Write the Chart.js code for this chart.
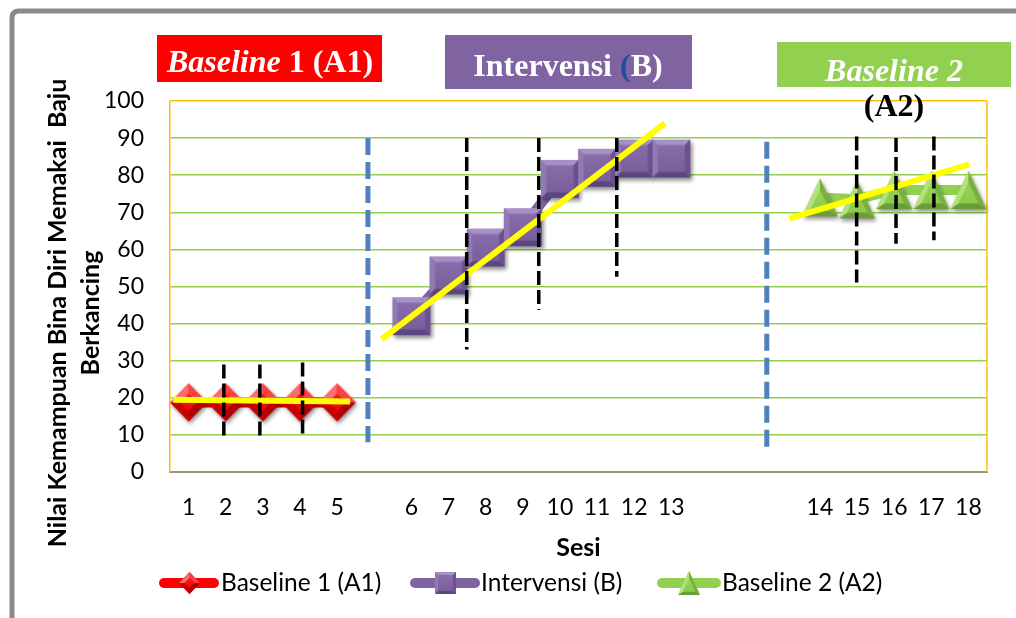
<!DOCTYPE html>
<html>
<head>
<meta charset="utf-8">
<script src="https://cdn.jsdelivr.net/npm/chart.js@4/dist/chart.umd.min.js"></script>
<style>
  html, body { margin: 0; padding: 0; background: #ffffff; }
  canvas { display: block; }
</style>
</head>
<body>
<canvas id="chart" width="1016" height="618"></canvas>
<script>
// Session labels along the x axis (blank slots separate the phases)
const sessionLabels = ['1','2','3','4','5','','6','7','8','9','10','11','12','13','','','','14','15','16','17','18'];

// Scores per phase
const baseline1Values    = [18.75, 18.75, 18.75, 18.75, 18.75];
const interventionValues = [42, 53, 60.5, 66, 79, 82, 84.5, 84.5];
const baseline2Values    = [74, 73.5, 76, 76, 76];

// First slot of each phase on the category axis
const baseline1Start = 0;
const interventionStart = 6;
const baseline2Start = 17;

// Y axis ticks
const yMin = 0;
const yMax = 100;
const yStep = 10;

// Trend lines: [x start, y start, x end, y end] in slot units
const trendBaseline1    = [-0.41, 19.5, 4.35, 19.0];
const trendIntervention = [5.2, 35.8, 12.83, 94.0];
const trendBaseline2    = [16.17, 68.3, 21.02, 82.9];

// Phase change lines: [x, y top, y bottom]
const phaseLines = [[4.83, 90, 8], [15.57, 89, 6.7]];

// Split-middle lines: [x, y top, y bottom]
const splitLines = [
  [0.95, 29, 9], [1.92, 29, 9.3], [3.07, 29.5, 9.5],
  [7.49, 90, 33], [9.43, 90, 43.7], [11.53, 90, 52.6],
  [17.99, 90.4, 51.1], [19.05, 90, 61.5], [20.07, 90.4, 62.5]
];

// Series names and axis titles
const seriesNames = ['Baseline 1 (A1)', 'Intervensi (B)', 'Baseline 2 (A2)'];
const yTitleLines = ['Nilai Kemampuan Bina Diri Memakai  Baju', 'Berkancing'];
const xTitle = 'Sesi';

function placeOnAxis(values, start) {
  const out = sessionLabels.map(() => null);
  values.forEach((v, i) => { out[start + i] = v; });
  return out;
}

// Beveled marker drawn on an offscreen canvas
function bevelMarker(shape, w, h, colors, shadow) {
  const pad = 7;
  const c = document.createElement('canvas');
  c.width = Math.round(w + pad * 2);
  c.height = Math.round(h + pad * 2);
  const g = c.getContext('2d');
  const cx = c.width / 2, cy = c.height / 2;
  let outer, ic;
  if (shape === 'diamond') {
    outer = [[cx, cy - h / 2], [cx + w / 2, cy], [cx, cy + h / 2], [cx - w / 2, cy]];
    ic = [cx, cy];
  } else if (shape === 'square') {
    outer = [[cx - w / 2, cy - h / 2], [cx + w / 2, cy - h / 2], [cx + w / 2, cy + h / 2], [cx - w / 2, cy + h / 2]];
    ic = [cx, cy];
  } else {
    outer = [[cx, cy - h / 2], [cx + w / 2, cy + h / 2], [cx - w / 2, cy + h / 2]];
    ic = [cx, cy + h / 6];
  }
  const poly = (pts) => {
    g.beginPath();
    pts.forEach((p, i) => i ? g.lineTo(p[0], p[1]) : g.moveTo(p[0], p[1]));
    g.closePath();
  };
  g.save();
  if (shadow) {
    g.shadowColor = 'rgba(0,0,0,0.45)';
    g.shadowBlur = 4;
    g.shadowOffsetX = 1.5;
    g.shadowOffsetY = 2.5;
  }
  poly(outer);
  g.fillStyle = colors.base;
  g.fill();
  g.restore();
  const k = colors.inset;
  const inner = outer.map(([x, y]) => [ic[0] + (x - ic[0]) * k, ic[1] + (y - ic[1]) * k]);
  for (let i = 0; i < outer.length; i++) {
    const j = (i + 1) % outer.length;
    poly([outer[i], outer[j], inner[j], inner[i]]);
    g.fillStyle = colors.facets[i];
    g.fill();
  }
  poly(inner);
  const grad = g.createLinearGradient(0, cy - h / 2, 0, cy + h / 2);
  grad.addColorStop(0, colors.face[0]);
  grad.addColorStop(1, colors.face[1]);
  g.fillStyle = grad;
  g.fill();
  return c;
}

const redStyle = { base: '#E00000', inset: 0.45,
  facets: ['#FF4040', '#B00000', '#C80000', '#FF6A6A'], face: ['#FF2020', '#E00000'] };
const purpleStyle = { base: '#8064A2', inset: 0.7,
  facets: ['#A690C6', '#6A5290', '#5C4680', '#917AB4'], face: ['#8C70AE', '#785C9A'] };
const greenStyle = { base: '#92D050', inset: 0.55,
  facets: ['#78B040', '#6A9C38', '#B2E27C'], face: ['#9ED85E', '#8AC848'] };

const diamondMarker = bevelMarker('diamond', 37, 38, redStyle, true);
const squareMarker = bevelMarker('square', 38, 38, purpleStyle, true);
const triangleMarker = bevelMarker('triangle', 36, 38, greenStyle, true);
const diamondSmall = bevelMarker('diamond', 21, 22, redStyle, false);
const squareSmall = bevelMarker('square', 21, 22, purpleStyle, false);
const triangleSmall = bevelMarker('triangle', 22, 24, greenStyle, false);

const seriesColors = ['#FF0000', '#8064A2', '#92D050'];

function segment(pts, color, width, dash) {
  return {
    type: 'line', xAxisID: 'xs', yAxisID: 'y',
    data: pts, borderColor: color, borderWidth: width, borderDash: dash || [],
    borderCapStyle: 'butt', pointRadius: 0, fill: false, tension: 0, clip: false
  };
}

const splitDatasets = splitLines.map(([x, y1, y2]) =>
  segment([{ x, y: y1 }, { x, y: y2 }], '#000000', 3.5, [14, 5]));
const trendDatasets = [trendBaseline1, trendIntervention, trendBaseline2].map(([x1, y1, x2, y2]) =>
  segment([{ x: x1, y: y1 }, { x: x2, y: y2 }], '#FFFF00', 6));
const phaseDatasets = phaseLines.map(([x, y1, y2]) =>
  segment([{ x, y: y1 }, { x, y: y2 }], '#4F81BD', 5, [17, 7]));

function series(name, values, start, color, marker) {
  return {
    label: name, xAxisID: 'x', yAxisID: 'y',
    data: placeOnAxis(values, start),
    borderColor: color, backgroundColor: color, borderWidth: 10,
    pointStyle: marker, pointRadius: 19, pointHoverRadius: 19,
    spanGaps: false, tension: 0, clip: false, fill: false
  };
}

const seriesDatasets = [
  series(seriesNames[0], baseline1Values, baseline1Start, seriesColors[0], diamondMarker),
  series(seriesNames[1], interventionValues, interventionStart, seriesColors[1], squareMarker),
  series(seriesNames[2], baseline2Values, baseline2Start, seriesColors[2], triangleMarker)
];

// Outer frame of the figure
const framePlugin = {
  id: 'frame',
  beforeDraw(chart) {
    const ctx = chart.ctx;
    ctx.save();
    ctx.fillStyle = '#ffffff';
    ctx.fillRect(0, 0, chart.width, chart.height);
    ctx.strokeStyle = '#8A8A8A';
    ctx.lineWidth = 5;
    ctx.beginPath();
    ctx.moveTo(12, chart.height + 5);
    ctx.lineTo(12, 18);
    ctx.quadraticCurveTo(12, 11, 19, 11);
    ctx.lineTo(chart.width + 5, 11);
    ctx.stroke();
    ctx.restore();
  }
};

// Right edge of the plot area
const plotEdgePlugin = {
  id: 'plotEdge',
  beforeDatasetsDraw(chart) {
    const { ctx, chartArea } = chart;
    ctx.save();
    ctx.strokeStyle = '#FFC000';
    ctx.lineWidth = 1.5;
    ctx.beginPath();
    ctx.moveTo(chartArea.right, chartArea.top);
    ctx.lineTo(chartArea.right, chartArea.bottom);
    ctx.stroke();
    ctx.restore();
  }
};

function drawRuns(ctx, runs, cx, baseline) {
  let total = 0;
  runs.forEach(r => { ctx.font = r.font; r.w = ctx.measureText(r.text).width; total += r.w; });
  let x = cx - total / 2;
  ctx.textAlign = 'left';
  ctx.textBaseline = 'alphabetic';
  runs.forEach(r => {
    ctx.font = r.font;
    ctx.fillStyle = r.color;
    ctx.fillText(r.text, x, baseline);
    x += r.w;
  });
}

// Phase name boxes above the plot
const phaseBoxPlugin = {
  id: 'phaseBoxes',
  afterDraw(chart) {
    const ctx = chart.ctx;
    const serif = '"Liberation Serif", "Times New Roman", serif';
    const bi = 'italic bold 32px ' + serif;
    const b = 'bold 32px ' + serif;
    ctx.save();
    ctx.fillStyle = '#FF0000';
    ctx.fillRect(157, 35, 225, 47);
    drawRuns(ctx, [{ text: 'Baseline', font: bi, color: '#fff' }, { text: ' 1 (A1)', font: b, color: '#fff' }], 270, 72);

    ctx.fillStyle = '#8064A2';
    ctx.fillRect(445, 35, 247, 54);
    drawRuns(ctx, [{ text: 'Intervensi ', font: b, color: '#fff' }, { text: '(', font: b, color: '#1F4E9A' },
      { text: 'B)', font: b, color: '#fff' }], 568, 76);

    ctx.fillStyle = '#92D050';
    ctx.fillRect(777, 42, 234, 45);
    drawRuns(ctx, [{ text: 'Baseline 2', font: bi, color: '#fff' }], 894, 81);
    drawRuns(ctx, [{ text: '(A2)', font: b, color: '#000' }], 894, 116);
    ctx.restore();
  }
};

// Two-line rotated y axis title
const yTitlePlugin = {
  id: 'yTitle',
  afterDraw(chart) {
    const ctx = chart.ctx;
    ctx.save();
    ctx.fillStyle = '#000';
    ctx.font = 'bold 25px Lato, "Open Sans", sans-serif';
    ctx.textAlign = 'center';
    ctx.textBaseline = 'middle';
    const xs = [58, 91];
    yTitleLines.forEach((t, i) => {
      ctx.save();
      ctx.translate(xs[i], 313);
      ctx.rotate(-Math.PI / 2);
      ctx.fillText(t, 0, 0);
      ctx.restore();
    });
    ctx.restore();
  }
};

// Legend row with line swatches and markers
const legendPlugin = {
  id: 'seriesLegend',
  afterDraw(chart) {
    const ctx = chart.ctx;
    const y = 583;
    const items = [
      { x1: 159, x2: 219, marker: diamondSmall, tx: 221 },
      { x1: 410, x2: 480, marker: squareSmall, tx: 481 },
      { x1: 657, x2: 721, marker: triangleSmall, tx: 722 }
    ];
    ctx.save();
    items.forEach((it, i) => {
      ctx.strokeStyle = seriesColors[i];
      ctx.lineWidth = 10;
      ctx.lineCap = 'round';
      ctx.beginPath();
      ctx.moveTo(it.x1 + 5, y);
      ctx.lineTo(it.x2 - 5, y);
      ctx.stroke();
      const mx = (it.x1 + it.x2) / 2;
      ctx.drawImage(it.marker, Math.round(mx - it.marker.width / 2), Math.round(y - it.marker.height / 2));
      ctx.fillStyle = '#000';
      ctx.font = '24.5px Lato, "Open Sans", sans-serif';
      ctx.textAlign = 'left';
      ctx.textBaseline = 'middle';
      ctx.fillText(seriesNames[i], it.tx, y);
    });
    ctx.restore();
  }
};

function build() {
  new Chart(document.getElementById('chart'), {
    type: 'line',
    data: {
      labels: sessionLabels,
      datasets: [...splitDatasets, ...trendDatasets, ...phaseDatasets, ...seriesDatasets]
    },
    options: {
      responsive: false,
      animation: false,
      devicePixelRatio: 1,
      events: [],
      layout: { padding: { top: 101, right: 29, left: 0, bottom: 0 } },
      plugins: { legend: { display: false }, tooltip: { enabled: false } },
      scales: {
        x: {
          type: 'category',
          offset: true,
          grid: { display: false, drawTicks: false },
          border: { color: '#9A9478', width: 2 },
          ticks: { autoSkip: false, maxRotation: 0, padding: 22, color: '#000',
            font: { family: 'Lato', size: 23 } },
          title: { display: true, text: xTitle, color: '#000',
            font: { family: 'Lato', size: 25, weight: 'bold' }, padding: { top: 0, bottom: 55 } },
          afterFit(s) { s.height = 146; }
        },
        xs: { type: 'linear', display: false, min: -0.5, max: 21.5 },
        y: {
          min: yMin, max: yMax,
          ticks: { stepSize: yStep, padding: 26, color: '#000', font: { family: 'Lato', size: 23 } },
          grid: {
            drawTicks: false, lineWidth: 1.5,
            color: c => c.tick.value === yMax ? '#FFC000' : (c.tick.value === yMin ? 'rgba(0,0,0,0)' : '#92D050')
          },
          border: { color: '#FFC000', width: 1.5 },
          afterFit(s) { s.width = 170; }
        }
      }
    },
    plugins: [framePlugin, plotEdgePlugin, phaseBoxPlugin, yTitlePlugin, legendPlugin]
  });
}

const fontLoads = ['23px Lato', 'bold 25px Lato', 'bold 32px "Liberation Serif"', 'italic bold 32px "Liberation Serif"']
  .map(f => document.fonts.load(f).catch(() => null));
Promise.all(fontLoads).then(build, build);
</script>
</body>
</html>
